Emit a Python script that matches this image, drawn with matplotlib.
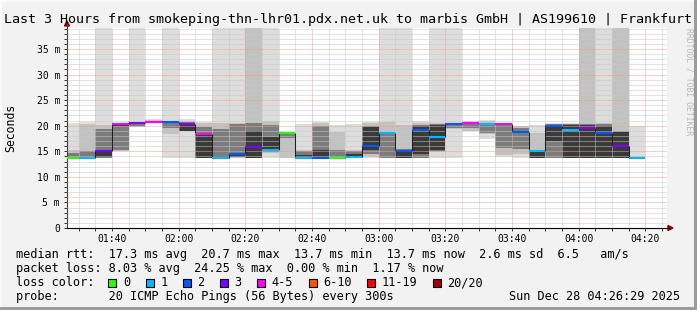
import numpy as np
import matplotlib
matplotlib.use("Agg")
import matplotlib.pyplot as plt
from matplotlib.ticker import MultipleLocator, FuncFormatter
from matplotlib.transforms import Affine2D
from matplotlib.patches import Rectangle, Polygon

W, H = 697, 310
MONO = "DejaVu Sans Mono"

# 5 minute bins, minutes after midnight (01:25 ... 04:15)
bin_start = np.arange(85, 256, 5)
view = (86 + 29 / 60.0, 266 + 29 / 60.0)   # 01:26:29 .. 04:26:29

# median rtt (ms) and lost pings (of 20) per bin
median = [13.7, 13.7, 15.1, 20.3, 20.5, 20.7, 20.7, 20.4, 18.3, 13.7,
          14.4, 15.9, 15.2, 18.5, 13.7, 13.7, 13.7, 13.8, 16.1, 18.6,
          15.1, 19.1, 17.7, 20.3, 20.5, 20.4, 20.3, 18.7, 15.1, 19.9,
          19.1, 19.6, 18.5, 16.1, 13.7]
loss = [0, 1, 3, 4, 3, 4, 2, 3, 4, 1,
        2, 3, 1, 0, 1, 2, 0, 1, 2, 1,
        2, 2, 1, 2, 4, 1, 4, 2, 1, 2,
        1, 3, 2, 3, 1]

# smoke, outer -> inner layers (ms); 60 / 55 = beyond top of graph
smoke1_lo = [13.7, 13.7, 13.7, 15.0, 19.7, 20.5, 13.7, 13.7, 13.7, 13.7,
             13.7, 13.7, 13.7, 13.7, 13.7, 13.7, 13.7, 13.7, 13.7, 13.7,
             13.7, 13.7, 13.7, 13.7, 18.9, 17.4, 13.9, 13.7, 13.7, 13.7,
             13.7, 13.7, 13.7, 13.7, 13.7]
smoke1_hi = [20.6, 20.8, 60, 20.6, 60, 21.3, 60, 21.3, 20.8, 60,
             60, 60, 60, 18.7, 20.4, 20.8, 20.2, 20.4, 20.7, 60,
             60, 20.9, 60, 60, 20.9, 21.2, 20.5, 20.0, 20.1, 20.5,
             20.5, 60, 60, 60, 19.9]
smoke2_lo = [13.7, 13.7, 13.7, 15.1, 19.8, 20.6, 18.4, 18.9, 13.7, 13.7,
             13.7, 13.7, 14.6, 13.7, 13.7, 13.7, 13.7, 13.7, 13.8, 13.7,
             13.7, 13.7, 14.9, 19.3, 19.0, 18.4, 14.3, 14.5, 13.7, 13.7,
             13.7, 13.7, 13.7, 13.7, 13.7]
smoke2_hi = [15.2, 20.3, 20.1, 20.5, 20.7, 21.2, 21.0, 21.0, 20.5, 20.6,
             20.6, 55, 21.0, 18.6, 15.3, 20.5, 18.7, 15.3, 20.5, 20.7,
             20.2, 20.6, 20.5, 20.5, 20.8, 21.0, 20.4, 19.9, 18.5, 20.4,
             20.4, 55, 20.5, 55, 14.0]
smoke3_lo = [13.7, 13.7, 13.7, 15.2, 20.0, 20.6, 19.5, 19.0, 13.7, 13.7,
             13.8, 13.7, 14.8, 17.5, 13.7, 13.7, 13.7, 13.7, 14.5, 13.7,
             13.7, 13.7, 15.1, 19.6, 19.5, 18.6, 15.6, 15.5, 13.7, 13.7,
             13.7, 13.7, 13.7, 13.7, 13.7]
smoke3_hi = [14.6, 15.1, 19.3, 20.4, 20.6, 21.0, 20.8, 20.8, 19.8, 19.4,
             20.4, 20.5, 20.2, 18.6, 15.0, 20.0, 15.3, 15.0, 20.0, 18.8,
             15.4, 20.2, 20.3, 20.4, 20.6, 20.6, 20.2, 19.6, 15.3, 20.3,
             20.3, 20.4, 20.3, 18.9, 13.9]
smoke4_lo = [13.7, 13.7, 13.8, 19.9, 20.3, 20.6, 20.5, 19.0, 13.7, 13.7,
             13.8, 13.7, 15.0, 18.3, 13.7, 13.7, 13.7, 13.7, 15.3, 18.4,
             13.7, 14.5, 15.2, 20.2, 20.3, 20.2, 20.2, 18.5, 13.7, 17.0,
             13.7, 13.7, 13.7, 13.7, 13.7]
smoke4_hi = [13.8, 13.9, 15.3, 20.4, 20.6, 20.8, 20.8, 20.5, 18.4, 14.0,
             14.6, 19.0, 17.8, 18.6, 14.2, 15.3, 13.9, 14.5, 19.8, 18.8,
             15.2, 20.0, 20.1, 20.4, 20.6, 20.5, 20.4, 18.9, 15.0, 20.2,
             20.1, 20.2, 20.0, 18.8, 13.8]

loss_labels = ["0", "1", "2", "3", "4-5", "6-10", "11-19", "20/20"]
loss_colors = ["#26ff00", "#00b8ff", "#0059ff", "#7e00ff",
               "#ff00ff", "#ff5500", "#ff0000", "#a10000"]

title = "Last 3 Hours from smokeping-thn-lhr01.pdx.net.uk to marbis GmbH | AS199610 | Frankfurt"
rtt_line = "median rtt:  17.3 ms avg  20.7 ms max  13.7 ms min  13.7 ms now  2.6 ms sd  6.5   am/s"
loss_line = "packet loss: 8.03 % avg  24.25 % max  0.00 % min  1.17 % now"
probe_line = "probe:       20 ICMP Echo Pings (56 Bytes) every 300s"
stamp = "Sun Dec 28 04:26:29 2025"


def loss_index(n):
    if n <= 3:
        return n
    if n <= 5:
        return 4
    if n <= 10:
        return 5
    if n <= 19:
        return 6
    return 7


fig = plt.figure(figsize=(W / 100, H / 100), dpi=100, facecolor="#f2f2f2")
px = Affine2D().scale(1.0 / W, -1.0 / H).translate(0, 1) + fig.transFigure

x0, x1, y0, y1 = 67, 667, 28, 228
ax = fig.add_axes([x0 / W, (H - y1) / H, (x1 - x0) / W, (y1 - y0) / H])
ax.set_facecolor("white")
ax.set_xlim(*view)
ax.set_ylim(0, 39.1)

# smoke layers
layers = [(smoke1_lo, smoke1_hi, "#dddddd"), (smoke2_lo, smoke2_hi, "#c2c2c2"),
          (smoke3_lo, smoke3_hi, "#7c7c7c"), (smoke4_lo, smoke4_hi, "#3a3a3a")]
for i, (lo, hi, c) in enumerate(layers):
    lo = np.array(lo)
    hi = np.array(hi)
    ax.bar(bin_start, hi - lo, bottom=lo, width=5, align="edge",
           color=c, linewidth=0, zorder=1 + i * 0.1)

# median line
med = np.array(median)
ax.vlines(bin_start[1:], np.minimum(med[:-1], med[1:]), np.maximum(med[:-1], med[1:]),
          color="#202020", lw=0.75, zorder=2.9)
ax.hlines(med, bin_start, bin_start + 5,
          colors=[loss_colors[loss_index(n)] for n in loss], lw=1.5, zorder=3)

# grid / ticks
ax.set_axisbelow(False)
ax.xaxis.set_major_locator(MultipleLocator(20))
ax.xaxis.set_minor_locator(MultipleLocator(5))
ax.yaxis.set_major_locator(MultipleLocator(5))
ax.yaxis.set_minor_locator(MultipleLocator(1))
ax.xaxis.set_major_formatter(FuncFormatter(lambda v, p: "%02d:%02d" % (int(v) // 60, int(v) % 60)))
ax.yaxis.set_major_formatter(FuncFormatter(lambda v, p: "0" if v == 0 else "%d m" % v))
ax.grid(which="minor", color="#c8c8c8", lw=0.72, linestyle=(0, (1, 1)))
ax.grid(which="major", color="#e8a0a0", lw=0.72, linestyle=(0, (1, 1)))
ax.tick_params(which="both", direction="out", length=2, width=0.7, color="#333333",
               labelsize=7.0, pad=3)
ax.tick_params(axis="x", which="both", pad=2.5)
for lab in ax.get_xticklabels() + ax.get_yticklabels():
    lab.set_family(MONO)
for s in ["top", "right"]:
    ax.spines[s].set_visible(False)
ax.spines["left"].set_color("#404040")
ax.spines["bottom"].set_color("#000000")
ax.spines["left"].set_linewidth(0.8)
ax.spines["bottom"].set_linewidth(0.8)

# axis extensions with arrows
fig.add_artist(plt.Line2D([x0, x0], [y0, 24], color="#404040", lw=0.8, transform=px))
fig.add_artist(plt.Line2D([x1, 669], [y1, y1], color="#000000", lw=0.8, transform=px))
fig.add_artist(Polygon([[x0 - 2.5, 26], [x0 + 2.5, 26], [x0, 21]], closed=True,
                       color="#8b0000", transform=px))
fig.add_artist(Polygon([[668, y1 - 2.5], [668, y1 + 2.5], [673, y1]], closed=True,
                       color="#8b0000", transform=px))

# texts
fig.text(348.5, 19, title, transform=px, family=MONO, fontsize=9.68,
         ha="center", va="center", color="#000000")
fig.text(11, 128, "Seconds", transform=px, family=MONO, fontsize=8.3,
         rotation=90, ha="center", va="center", color="#000000")
fig.text(689.5, 28, "RRDTOOL / TOBI OETIKER", transform=px, family=MONO,
         fontsize=5.8, rotation=-90, ha="center", va="top", color="#b8b8b8")

cw = 7.15
fs = 8.55
fig.text(16, 254.5, rtt_line, transform=px, family=MONO, fontsize=fs, va="center")
fig.text(16, 268.5, loss_line, transform=px, family=MONO, fontsize=fs, va="center")
fig.text(16, 282.5, "loss color:", transform=px, family=MONO, fontsize=fs, va="center")
fig.text(16, 296.5, probe_line, transform=px, family=MONO, fontsize=fs, va="center")
fig.text(680, 296.5, stamp, transform=px, family=MONO, fontsize=fs, va="center", ha="right")

bx = 16 + 13 * cw - 0.5
for lab, c in zip(loss_labels, loss_colors):
    fig.add_artist(Rectangle((bx, 278.5), 8, 8, facecolor=c, edgecolor="black",
                             lw=0.8, transform=px))
    fig.text(bx + 14.7, 282.5, lab, transform=px, family=MONO, fontsize=fs, va="center")
    bx += 30 + len(lab) * cw

# outer frame shading
fig.add_artist(Rectangle((0, H - 3), W, 3, color="#9c9c9c", lw=0, transform=px))
fig.add_artist(Rectangle((W - 3, 0), 3, H, color="#9c9c9c", lw=0, transform=px))
fig.add_artist(Rectangle((0, 0), W - 3, 2, color="#fafafa", lw=0, transform=px))
fig.add_artist(Rectangle((0, 0), 2, H - 3, color="#fafafa", lw=0, transform=px))

fig.savefig("out.png", dpi=100, facecolor=fig.get_facecolor())
